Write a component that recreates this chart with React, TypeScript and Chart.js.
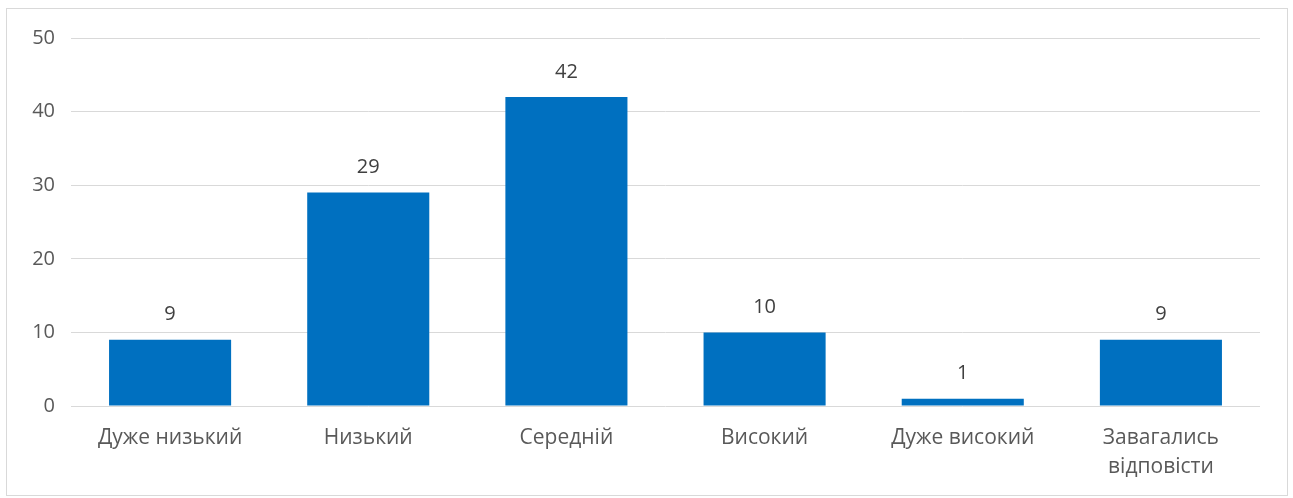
import React, { useEffect, useRef } from "react";
import { Chart, registerables } from "chart.js";

Chart.register(...registerables);

const categories: (string | string[])[] = [
  "Дуже низький",
  "Низький",
  "Середній",
  "Високий",
  "Дуже високий",
  ["Завагались", "відповісти"],
];
const values: number[] = [9, 29, 42, 10, 1, 9];
const yTicks: number[] = [0, 10, 20, 30, 40, 50];

const FONT = "'Open Sans', 'Noto Sans', sans-serif";

const labelPlugin = {
  id: "valueLabels",
  afterDatasetsDraw(chart: any) {
    const ctx = chart.ctx;
    const meta = chart.getDatasetMeta(0);
    ctx.save();
    ctx.font = `20px ${FONT}`;
    ctx.fillStyle = "#404040";
    ctx.textAlign = "center";
    ctx.textBaseline = "middle";
    meta.data.forEach((bar: any, i: number) => {
      ctx.fillText(String(values[i]), bar.x, bar.y - 25);
    });
    ctx.restore();
  },
};

export default function App() {
  const ref = useRef<HTMLCanvasElement>(null);
  useEffect(() => {
    if (!ref.current) return;
    const chart = new Chart(ref.current, {
      type: "bar",
      data: {
        labels: categories,
        datasets: [
          {
            data: values,
            backgroundColor: "#0070C0",
            borderWidth: 0,
            barPercentage: 0.616,
            categoryPercentage: 1,
          },
        ],
      },
      options: {
        animation: false,
        responsive: false,
        maintainAspectRatio: false,
        layout: { padding: { left: 0, right: 27, top: 29, bottom: 0 } },
        plugins: { legend: { display: false }, tooltip: { enabled: false } },
        scales: {
          x: {
            grid: { display: false, drawTicks: false },
            border: { display: false },
            ticks: {
              color: "#595959",
              font: { family: FONT, size: 21, lineHeight: 1.4 },
              padding: 17,
              maxRotation: 0,
              autoSkip: false,
            },
            afterFit(scale: any) {
              scale.height = 89;
            },
          },
          y: {
            min: 0,
            max: 50,
            afterBuildTicks(scale: any) {
              scale.ticks = yTicks.map((v) => ({ value: v }));
            },
            grid: { color: "#d9d9d9", lineWidth: 1, drawTicks: false },
            border: { display: false },
            ticks: {
              color: "#595959",
              font: { family: FONT, size: 20 },
              padding: 16,
            },
            afterFit(scale: any) {
              scale.width = 64;
            },
          },
        },
      },
      plugins: [labelPlugin],
    });
    return () => chart.destroy();
  }, []);
  return (
    <div
      style={{
        position: "absolute",
        left: 6,
        top: 8,
        width: 1280,
        height: 486,
        border: "1px solid #d9d9d9",
        background: "#fff",
      }}
    >
      <canvas ref={ref} width={1280} height={486} style={{ display: "block" }} />
    </div>
  );
}
